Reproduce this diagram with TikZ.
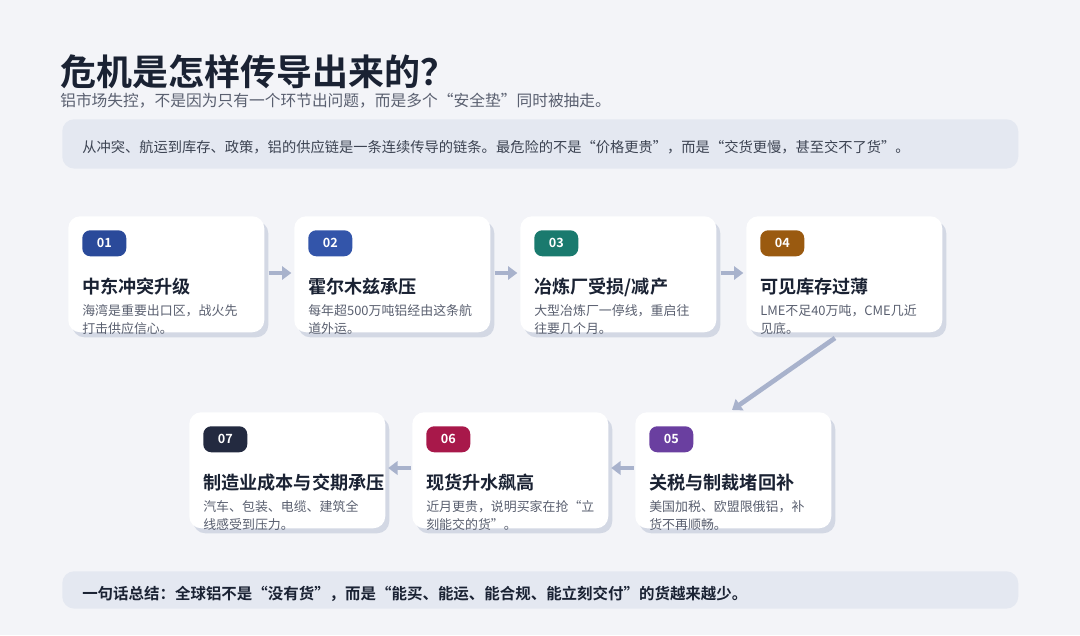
\documentclass[tikz,border=0pt]{standalone}
\usepackage{fontspec}
\setmainfont{Noto Sans CJK SC}[BoldFont={Noto Sans CJK SC Bold}]
\usetikzlibrary{arrows.meta}
\definecolor{bg}{HTML}{F3F4F8}
\definecolor{panel}{HTML}{E4E8F1}
\definecolor{ink}{HTML}{1A2233}
\definecolor{gray1}{HTML}{5A6070}
\definecolor{arr}{HTML}{A8B2CC}
\definecolor{shd}{HTML}{D3D8E4}
\definecolor{c1}{HTML}{2A4A9A}\definecolor{c2}{HTML}{3355AA}\definecolor{c3}{HTML}{1A7A6E}
\definecolor{c4}{HTML}{9A5A10}\definecolor{c5}{HTML}{6A3FA0}\definecolor{c6}{HTML}{A8184A}\definecolor{c7}{HTML}{232A40}
\tikzset{
 cardbox/.style={fill=white,rounded corners=9pt,minimum width=147pt,minimum height=87pt,inner sep=0pt},
 shadowbox/.style={fill=shd,rounded corners=9pt,minimum width=147pt,minimum height=87pt,inner sep=0pt},
 badge/.style={rounded corners=6pt,minimum width=33pt,minimum height=19.5pt,inner sep=0pt,text=white,font=\bfseries\fontsize{9.5}{10}\selectfont},
 ctitle/.style={anchor=base west,inner sep=0pt,text=ink,font=\bfseries\fontsize{13.6}{16}\selectfont},
 cdesc/.style={anchor=north west,inner sep=0pt,text=gray1,align=left,font=\fontsize{9.7}{13.5}\selectfont},
 flow/.style={draw=arr,line width=3.5pt,-{Triangle[length=7pt,width=10pt]}}
}
\newcommand{\card}[7]{% name, x, y, color, num, title, desc
 \node[shadowbox,anchor=north west] at (#2+4,#3+5) {};
 \node[cardbox,anchor=north west] (#1) at (#2,#3) {};
 \node[badge,fill=#4,anchor=north west] (#1b) at (#2+14,#3+14) {#5};
 \node[ctitle] (#1t) at (#2+14,#3+77) {#6};
 \node[cdesc] (#1d) at (#2+14,#3+88) {#7};
}
\begin{document}
\begin{tikzpicture}[x=0.75pt,y=-0.75pt]
\fill[bg] (0,0) rectangle (1080,635);
\useasboundingbox (0,0) rectangle (1080,635);
\node[anchor=west,inner sep=0pt,text=ink,font=\bfseries\fontsize{27}{30}\selectfont] (title) at (60,72) {危机是怎样传导出来的？};
\node[anchor=west,inner sep=0pt,text=gray1,font=\fontsize{11.8}{13}\selectfont] (sub) at (60,101) {铝市场失控，不是因为只有一个环节出问题，而是多个“安全垫”同时被抽走。};
\node[fill=panel,rounded corners=9pt,anchor=north west,minimum width=717pt,minimum height=37pt,inner sep=0pt] (p1) at (62,119) {};
\node[anchor=west,inner sep=0pt,text=ink!85,font=\fontsize{10.7}{12}\selectfont] (p1t) at (82,147) {从冲突、航运到库存、政策，铝的供应链是一条连续传导的链条。最危险的不是“价格更贵”，而是“交货更慢，甚至交不了货”。};
\node[fill=panel,rounded corners=9pt,anchor=north west,minimum width=717pt,minimum height=28pt,inner sep=0pt] (p2) at (62,571) {};
\node[anchor=west,inner sep=0pt,text=ink,font=\bfseries\fontsize{11.6}{13}\selectfont] (p2t) at (82,594) {一句话总结：全球铝不是“没有货”，而是“能买、能运、能合规、能立刻交付”的货越来越少。};
\card{a}{68}{216}{c1}{01}{中东冲突升级}{海湾是重要出口区，战火先\\打击供应信心。}
\card{b}{294}{216}{c2}{02}{霍尔木兹承压}{每年超500万吨铝经由这条航\\道外运。}
\card{c}{520}{216}{c3}{03}{冶炼厂受损/减产}{大型冶炼厂一停线，重启往\\往要几个月。}
\card{d}{746}{216}{c4}{04}{可见库存过薄}{LME不足40万吨，CME几近\\见底。}
\card{e}{635}{412}{c5}{05}{关税与制裁堵回补}{美国加税、欧盟限俄铝，补\\货不再顺畅。}
\card{f}{412}{412}{c6}{06}{现货升水飙高}{近月更贵，说明买家在抢“立\\刻能交的货”。}
\card{g}{189}{412}{c7}{07}{制造业成本与交期承压}{汽车、包装、电缆、建筑全\\线感受到压力。}
\draw[flow] ([xshift=3pt]a.east|-0,273) -- ([xshift=-2pt]b.west|-0,273);
\draw[flow] ([xshift=3pt]b.east|-0,273) -- ([xshift=-2pt]c.west|-0,273);
\draw[flow] ([xshift=3pt]c.east|-0,273) -- ([xshift=-2pt]d.west|-0,273);
\draw[flow] (835,338) -- (732,410);
\draw[flow] ([xshift=-1pt]e.west|-0,468) -- ([xshift=2pt]f.east|-0,468);
\draw[flow] ([xshift=-1pt]f.west|-0,468) -- ([xshift=2pt]g.east|-0,468);
\end{tikzpicture}
\end{document}
